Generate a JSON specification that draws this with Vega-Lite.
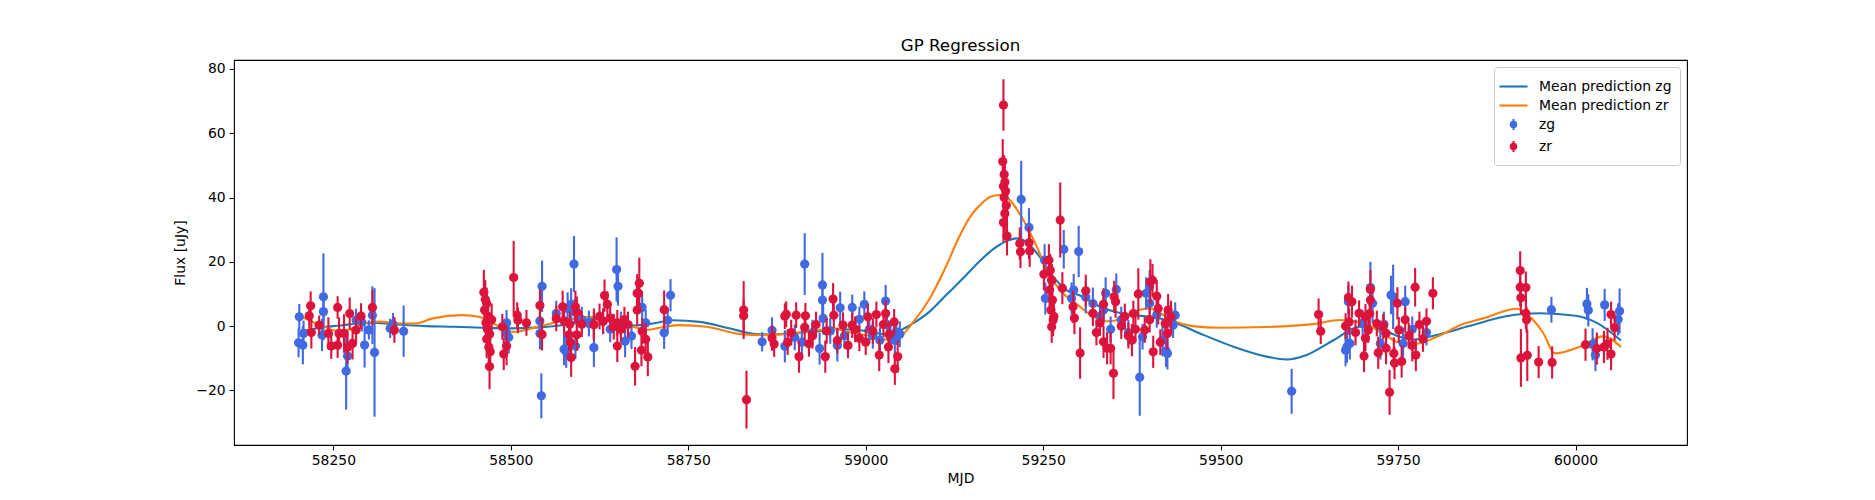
{
"$schema": "https://vega.github.io/schema/vega-lite/v6.json",
"autosize": {"type": "none"},
"padding": {"left": 234, "top": 60, "right": 188, "bottom": 55},
"width": 1453,
"height": 385,
"background": "white",
"title": {"text": "GP Regression", "fontSize": 16.7, "fontWeight": "normal", "font": "DejaVu Sans", "color": "black", "offset": 5},
"config": {
  "font": "DejaVu Sans",
  "view": {"stroke": "black", "strokeWidth": 1.1},
  "axis": {"domain": false, "grid": false, "labelFlush": false, "labelFontSize": 13.9, "labelColor": "black", "tickColor": "black", "tickSize": 4.9, "tickWidth": 1.1, "labelPadding": 4, "titleFontSize": 13.9, "titleFontWeight": "normal", "titleColor": "black", "labelFont": "DejaVu Sans", "titleFont": "DejaVu Sans"},
  "legend": {"symbolStrokeWidth": 2.1, "symbolOpacity": 1}
},
"datasets": {
"gp": [
{"series":"Mean prediction zg","mjd":58203,"flux":-1.8},{"series":"Mean prediction zg","mjd":58230,"flux":-0.5},{"series":"Mean prediction zg","mjd":58260,"flux":0.2},{"series":"Mean prediction zg","mjd":58290,"flux":0.9},{"series":"Mean prediction zg","mjd":58310,"flux":1.0},{"series":"Mean prediction zg","mjd":58340,"flux":0.5},{"series":"Mean prediction zg","mjd":58380,"flux":0.0},{"series":"Mean prediction zg","mjd":58420,"flux":-0.2},{"series":"Mean prediction zg","mjd":58460,"flux":-0.5},{"series":"Mean prediction zg","mjd":58500,"flux":-0.7},{"series":"Mean prediction zg","mjd":58540,"flux":-0.4},{"series":"Mean prediction zg","mjd":58580,"flux":0.6},{"series":"Mean prediction zg","mjd":58610,"flux":2.2},{"series":"Mean prediction zg","mjd":58630,"flux":2.0},{"series":"Mean prediction zg","mjd":58650,"flux":1.0},{"series":"Mean prediction zg","mjd":58672,"flux":0.2},{"series":"Mean prediction zg","mjd":58700,"flux":0.8},{"series":"Mean prediction zg","mjd":58728,"flux":1.8},{"series":"Mean prediction zg","mjd":58766,"flux":1.3},{"series":"Mean prediction zg","mjd":58808,"flux":-0.7},{"series":"Mean prediction zg","mjd":58846,"flux":-2.5},{"series":"Mean prediction zg","mjd":58870,"flux":-2.6},{"series":"Mean prediction zg","mjd":58900,"flux":-2.2},{"series":"Mean prediction zg","mjd":58930,"flux":-1.7},{"series":"Mean prediction zg","mjd":58960,"flux":-1.0},{"series":"Mean prediction zg","mjd":58990,"flux":-1.2},{"series":"Mean prediction zg","mjd":59010,"flux":-2.0},{"series":"Mean prediction zg","mjd":59030,"flux":-2.5},{"series":"Mean prediction zg","mjd":59050,"flux":-1.2},{"series":"Mean prediction zg","mjd":59067,"flux":0.9},{"series":"Mean prediction zg","mjd":59090,"flux":4.5},{"series":"Mean prediction zg","mjd":59114,"flux":9.8},{"series":"Mean prediction zg","mjd":59140,"flux":15.5},{"series":"Mean prediction zg","mjd":59161,"flux":20.3},{"series":"Mean prediction zg","mjd":59180,"flux":24.0},{"series":"Mean prediction zg","mjd":59198,"flux":26.4},{"series":"Mean prediction zg","mjd":59212,"flux":27.3},{"series":"Mean prediction zg","mjd":59226,"flux":26.2},{"series":"Mean prediction zg","mjd":59245,"flux":21.6},{"series":"Mean prediction zg","mjd":59264,"flux":15.4},{"series":"Mean prediction zg","mjd":59283,"flux":11.2},{"series":"Mean prediction zg","mjd":59302,"flux":9.5},{"series":"Mean prediction zg","mjd":59330,"flux":6.0},{"series":"Mean prediction zg","mjd":59360,"flux":4.0},{"series":"Mean prediction zg","mjd":59377,"flux":3.4},{"series":"Mean prediction zg","mjd":59400,"flux":2.9},{"series":"Mean prediction zg","mjd":59433,"flux":1.3},{"series":"Mean prediction zg","mjd":59471,"flux":-2.3},{"series":"Mean prediction zg","mjd":59518,"flux":-6.4},{"series":"Mean prediction zg","mjd":59565,"flux":-9.5},{"series":"Mean prediction zg","mjd":59593,"flux":-10.4},{"series":"Mean prediction zg","mjd":59621,"flux":-9.0},{"series":"Mean prediction zg","mjd":59659,"flux":-4.4},{"series":"Mean prediction zg","mjd":59696,"flux":-0.2},{"series":"Mean prediction zg","mjd":59729,"flux":-1.2},{"series":"Mean prediction zg","mjd":59752,"flux":-3.3},{"series":"Mean prediction zg","mjd":59770,"flux":-4.2},{"series":"Mean prediction zg","mjd":59800,"flux":-3.0},{"series":"Mean prediction zg","mjd":59850,"flux":0.0},{"series":"Mean prediction zg","mjd":59900,"flux":3.0},{"series":"Mean prediction zg","mjd":59950,"flux":4.0},{"series":"Mean prediction zg","mjd":60000,"flux":3.2},{"series":"Mean prediction zg","mjd":60030,"flux":1.0},{"series":"Mean prediction zg","mjd":60064,"flux":-4.5},
{"series":"Mean prediction zr","mjd":58205,"flux":3.0},{"series":"Mean prediction zr","mjd":58215,"flux":1.9},{"series":"Mean prediction zr","mjd":58235,"flux":0.0},{"series":"Mean prediction zr","mjd":58257,"flux":-1.5},{"series":"Mean prediction zr","mjd":58275,"flux":-1.0},{"series":"Mean prediction zr","mjd":58300,"flux":1.2},{"series":"Mean prediction zr","mjd":58315,"flux":1.4},{"series":"Mean prediction zr","mjd":58340,"flux":0.9},{"series":"Mean prediction zr","mjd":58366,"flux":0.8},{"series":"Mean prediction zr","mjd":58390,"flux":2.4},{"series":"Mean prediction zr","mjd":58432,"flux":3.4},{"series":"Mean prediction zr","mjd":58455,"flux":2.9},{"series":"Mean prediction zr","mjd":58484,"flux":-0.2},{"series":"Mean prediction zr","mjd":58503,"flux":-1.8},{"series":"Mean prediction zr","mjd":58541,"flux":0.0},{"series":"Mean prediction zr","mjd":58579,"flux":1.9},{"series":"Mean prediction zr","mjd":58611,"flux":2.9},{"series":"Mean prediction zr","mjd":58640,"flux":1.5},{"series":"Mean prediction zr","mjd":58672,"flux":-0.2},{"series":"Mean prediction zr","mjd":58691,"flux":-1.2},{"series":"Mean prediction zr","mjd":58715,"flux":-0.3},{"series":"Mean prediction zr","mjd":58738,"flux":0.3},{"series":"Mean prediction zr","mjd":58776,"flux":-0.2},{"series":"Mean prediction zr","mjd":58823,"flux":-2.5},{"series":"Mean prediction zr","mjd":58856,"flux":-2.8},{"series":"Mean prediction zr","mjd":58893,"flux":-2.3},{"series":"Mean prediction zr","mjd":58925,"flux":-1.5},{"series":"Mean prediction zr","mjd":58954,"flux":-0.8},{"series":"Mean prediction zr","mjd":58980,"flux":-2.0},{"series":"Mean prediction zr","mjd":59006,"flux":-3.1},{"series":"Mean prediction zr","mjd":59030,"flux":-4.2},{"series":"Mean prediction zr","mjd":59043,"flux":-4.0},{"series":"Mean prediction zr","mjd":59067,"flux":1.3},{"series":"Mean prediction zr","mjd":59090,"flux":8.5},{"series":"Mean prediction zr","mjd":59114,"flux":19.0},{"series":"Mean prediction zr","mjd":59130,"flux":27.0},{"series":"Mean prediction zr","mjd":59147,"flux":34.0},{"series":"Mean prediction zr","mjd":59165,"flux":38.5},{"series":"Mean prediction zr","mjd":59175,"flux":40.2},{"series":"Mean prediction zr","mjd":59189,"flux":40.8},{"series":"Mean prediction zr","mjd":59203,"flux":39.2},{"series":"Mean prediction zr","mjd":59222,"flux":33.0},{"series":"Mean prediction zr","mjd":59241,"flux":24.7},{"series":"Mean prediction zr","mjd":59255,"flux":17.4},{"series":"Mean prediction zr","mjd":59274,"flux":11.2},{"series":"Mean prediction zr","mjd":59302,"flux":6.0},{"series":"Mean prediction zr","mjd":59320,"flux":3.0},{"series":"Mean prediction zr","mjd":59340,"flux":1.5},{"series":"Mean prediction zr","mjd":59360,"flux":2.2},{"series":"Mean prediction zr","mjd":59385,"flux":5.0},{"series":"Mean prediction zr","mjd":59400,"flux":5.5},{"series":"Mean prediction zr","mjd":59415,"flux":4.0},{"series":"Mean prediction zr","mjd":59435,"flux":1.5},{"series":"Mean prediction zr","mjd":59460,"flux":0.0},{"series":"Mean prediction zr","mjd":59500,"flux":-0.5},{"series":"Mean prediction zr","mjd":59560,"flux":-0.3},{"series":"Mean prediction zr","mjd":59630,"flux":0.6},{"series":"Mean prediction zr","mjd":59668,"flux":1.9},{"series":"Mean prediction zr","mjd":59700,"flux":1.0},{"series":"Mean prediction zr","mjd":59730,"flux":-2.5},{"series":"Mean prediction zr","mjd":59750,"flux":-5.0},{"series":"Mean prediction zr","mjd":59775,"flux":-5.5},{"series":"Mean prediction zr","mjd":59803,"flux":-3.5},{"series":"Mean prediction zr","mjd":59840,"flux":0.5},{"series":"Mean prediction zr","mjd":59870,"flux":2.4},{"series":"Mean prediction zr","mjd":59917,"flux":5.4},{"series":"Mean prediction zr","mjd":59940,"flux":2.0},{"series":"Mean prediction zr","mjd":59954,"flux":-2.0},{"series":"Mean prediction zr","mjd":59971,"flux":-8.5},{"series":"Mean prediction zr","mjd":60005,"flux":-6.5},{"series":"Mean prediction zr","mjd":60039,"flux":-3.2},{"series":"Mean prediction zr","mjd":60064,"flux":-6.5}
],
"zg": [
{"series":"zg","mjd":58202,"flux":2.9,"err":4},{"series":"zg","mjd":58201,"flux":-5.2,"err":4.5},{"series":"zg","mjd":58207,"flux":-5.9,"err":6},{"series":"zg","mjd":58208,"flux":-2.3,"err":4},{"series":"zg","mjd":58236,"flux":9.1,"err":13.5},{"series":"zg","mjd":58236,"flux":4.5,"err":4},{"series":"zg","mjd":58234,"flux":-2.8,"err":5},{"series":"zg","mjd":58268,"flux":-14.0,"err":12},{"series":"zg","mjd":58270,"flux":-9.3,"err":4},{"series":"zg","mjd":58294,"flux":-5.9,"err":7},{"series":"zg","mjd":58300,"flux":-1.2,"err":3},{"series":"zg","mjd":58305,"flux":3.4,"err":9},{"series":"zg","mjd":58308,"flux":-8.2,"err":20},{"series":"zg","mjd":58282,"flux":1.9,"err":3.5},{"series":"zg","mjd":58290,"flux":1.3,"err":3},{"series":"zg","mjd":58334,"flux":0.6,"err":3.5},{"series":"zg","mjd":58330,"flux":-0.7,"err":3},{"series":"zg","mjd":58349,"flux":-1.6,"err":8},
{"series":"zg","mjd":58494,"flux":1.0,"err":4},{"series":"zg","mjd":58494,"flux":-2.3,"err":4},{"series":"zg","mjd":58497,"flux":-3.5,"err":5},{"series":"zg","mjd":58543,"flux":-21.7,"err":7},{"series":"zg","mjd":58544,"flux":12.4,"err":8},{"series":"zg","mjd":58541,"flux":1.6,"err":4},{"series":"zg","mjd":58541,"flux":-2.3,"err":5},{"series":"zg","mjd":58589,"flux":19.3,"err":8.7},{"series":"zg","mjd":58580,"flux":5.5,"err":5},{"series":"zg","mjd":58585,"flux":6.8,"err":5},{"series":"zg","mjd":58590,"flux":4.5,"err":4},{"series":"zg","mjd":58575,"flux":-7.2,"err":5},{"series":"zg","mjd":58578,"flux":-8.0,"err":5},{"series":"zg","mjd":58591,"flux":-6.2,"err":4},{"series":"zg","mjd":58617,"flux":-6.7,"err":6},{"series":"zg","mjd":58600,"flux":2.0,"err":4},{"series":"zg","mjd":58564,"flux":3.9,"err":4},{"series":"zg","mjd":58649,"flux":17.6,"err":10},{"series":"zg","mjd":58651,"flux":12.4,"err":6},{"series":"zg","mjd":58685,"flux":5.8,"err":4},{"series":"zg","mjd":58725,"flux":9.6,"err":5},{"series":"zg","mjd":58721,"flux":1.8,"err":4},{"series":"zg","mjd":58716,"flux":-2.1,"err":5},{"series":"zg","mjd":58661,"flux":-4.7,"err":5},{"series":"zg","mjd":58670,"flux":-3.1,"err":4},{"series":"zg","mjd":58690,"flux":1.0,"err":4},{"series":"zg","mjd":58630,"flux":1.5,"err":4},{"series":"zg","mjd":58640,"flux":-1.0,"err":4},{"series":"zg","mjd":58655,"flux":0.5,"err":4},{"series":"zg","mjd":58610,"flux":0.8,"err":4},
{"series":"zg","mjd":58854,"flux":-4.9,"err":3},{"series":"zg","mjd":58868,"flux":-1.3,"err":4},{"series":"zg","mjd":58886,"flux":-6.3,"err":5},{"series":"zg","mjd":58914,"flux":19.3,"err":9.6},{"series":"zg","mjd":58939,"flux":12.8,"err":10},{"series":"zg","mjd":58939,"flux":8.1,"err":6},{"series":"zg","mjd":58940,"flux":2.4,"err":5},{"series":"zg","mjd":58964,"flux":5.7,"err":5},{"series":"zg","mjd":58981,"flux":5.8,"err":4},{"series":"zg","mjd":58998,"flux":6.8,"err":4},{"series":"zg","mjd":59028,"flux":7.8,"err":5},{"series":"zg","mjd":58991,"flux":2.1,"err":4},{"series":"zg","mjd":59020,"flux":-4.4,"err":4},{"series":"zg","mjd":59041,"flux":-4.4,"err":4},{"series":"zg","mjd":59043,"flux":-1.8,"err":4},{"series":"zg","mjd":58900,"flux":-3.5,"err":4},{"series":"zg","mjd":58910,"flux":-5.0,"err":4},{"series":"zg","mjd":58925,"flux":-2.0,"err":4},{"series":"zg","mjd":58935,"flux":-7.0,"err":5},{"series":"zg","mjd":58950,"flux":-1.5,"err":4},{"series":"zg","mjd":58960,"flux":-6.0,"err":5},{"series":"zg","mjd":58970,"flux":-3.0,"err":4},{"series":"zg","mjd":59005,"flux":-1.0,"err":4},{"series":"zg","mjd":59010,"flux":-3.0,"err":4},{"series":"zg","mjd":59035,"flux":-3.5,"err":4},{"series":"zg","mjd":59030,"flux":0.5,"err":4},{"series":"zg","mjd":59048,"flux":-2.5,"err":4},
{"series":"zg","mjd":59219,"flux":39.4,"err":12},{"series":"zg","mjd":59230,"flux":30.7,"err":6},{"series":"zg","mjd":59252,"flux":20.5,"err":5},{"series":"zg","mjd":59253,"flux":8.6,"err":5},{"series":"zg","mjd":59262,"flux":14.3,"err":5},{"series":"zg","mjd":59279,"flux":23.9,"err":6},{"series":"zg","mjd":59300,"flux":23.2,"err":8},{"series":"zg","mjd":59290,"flux":8.6,"err":5},{"series":"zg","mjd":59293,"flux":11.2,"err":5},{"series":"zg","mjd":59310,"flux":9.0,"err":5},{"series":"zg","mjd":59320,"flux":7.0,"err":5},
{"series":"zg","mjd":59338,"flux":10.2,"err":5},{"series":"zg","mjd":59353,"flux":11.4,"err":5},{"series":"zg","mjd":59335,"flux":5.0,"err":4},{"series":"zg","mjd":59395,"flux":10.2,"err":5},{"series":"zg","mjd":59400,"flux":12.4,"err":5},{"series":"zg","mjd":59400,"flux":7.1,"err":5},{"series":"zg","mjd":59436,"flux":3.4,"err":4},{"series":"zg","mjd":59433,"flux":0.3,"err":4},{"series":"zg","mjd":59418,"flux":-4.4,"err":5},{"series":"zg","mjd":59425,"flux":-8.5,"err":5},{"series":"zg","mjd":59390,"flux":-3.3,"err":4},{"series":"zg","mjd":59386,"flux":-15.9,"err":12},{"series":"zg","mjd":59423,"flux":-7.7,"err":5},{"series":"zg","mjd":59360,"flux":2.0,"err":4},{"series":"zg","mjd":59370,"flux":-2.0,"err":4},{"series":"zg","mjd":59345,"flux":-1.0,"err":4},{"series":"zg","mjd":59330,"flux":3.0,"err":4},{"series":"zg","mjd":59410,"flux":3.5,"err":4},
{"series":"zg","mjd":59600,"flux":-20.3,"err":7},
{"series":"zg","mjd":59680,"flux":7.6,"err":5},{"series":"zg","mjd":59678,"flux":-6.4,"err":5},{"series":"zg","mjd":59682,"flux":-5.4,"err":5},{"series":"zg","mjd":59676,"flux":-7.5,"err":5},{"series":"zg","mjd":59711,"flux":12.0,"err":8},{"series":"zg","mjd":59714,"flux":7.1,"err":6},{"series":"zg","mjd":59725,"flux":-5.4,"err":5},{"series":"zg","mjd":59743,"flux":9.1,"err":10},{"series":"zg","mjd":59760,"flux":7.6,"err":5},{"series":"zg","mjd":59757,"flux":-5.4,"err":5},{"series":"zg","mjd":59740,"flux":9.7,"err":6},{"series":"zg","mjd":59790,"flux":-2.0,"err":4},{"series":"zg","mjd":59700,"flux":1.0,"err":4},{"series":"zg","mjd":59730,"flux":0.5,"err":4},{"series":"zg","mjd":59770,"flux":-1.0,"err":4},
{"series":"zg","mjd":59966,"flux":5.1,"err":4},{"series":"zg","mjd":60016,"flux":6.9,"err":5},{"series":"zg","mjd":60018,"flux":4.9,"err":5},{"series":"zg","mjd":60041,"flux":6.6,"err":5},{"series":"zg","mjd":60062,"flux":4.7,"err":7},{"series":"zg","mjd":60060,"flux":2.1,"err":5},{"series":"zg","mjd":60028,"flux":-9.0,"err":5},{"series":"zg","mjd":60024,"flux":-5.7,"err":5}
],
"zr": [
{"series":"zr","mjd":58218,"flux":6.3,"err":4.5},{"series":"zr","mjd":58216,"flux":3.2,"err":4},{"series":"zr","mjd":58219,"flux":-2.0,"err":5},{"series":"zr","mjd":58230,"flux":0.3,"err":3},{"series":"zr","mjd":58243,"flux":-2.3,"err":5},{"series":"zr","mjd":58247,"flux":-6.2,"err":4},{"series":"zr","mjd":58256,"flux":5.8,"err":3.5},{"series":"zr","mjd":58256,"flux":-5.9,"err":4},{"series":"zr","mjd":58258,"flux":-2.3,"err":5},{"series":"zr","mjd":58265,"flux":-2.3,"err":6},{"series":"zr","mjd":58270,"flux":-6.6,"err":5},{"series":"zr","mjd":58273,"flux":3.9,"err":5},{"series":"zr","mjd":58277,"flux":-5.4,"err":5},{"series":"zr","mjd":58282,"flux":-1.2,"err":4},{"series":"zr","mjd":58289,"flux":3.1,"err":4},{"series":"zr","mjd":58305,"flux":5.8,"err":5.5},{"series":"zr","mjd":58336,"flux":-1.2,"err":4},
{"series":"zr","mjd":58462,"flux":10.5,"err":7},{"series":"zr","mjd":58464,"flux":8.3,"err":6},{"series":"zr","mjd":58466,"flux":7.0,"err":5},{"series":"zr","mjd":58463,"flux":5.0,"err":6},{"series":"zr","mjd":58468,"flux":3.0,"err":6},{"series":"zr","mjd":58465,"flux":1.0,"err":5},{"series":"zr","mjd":58467,"flux":-1.0,"err":5},{"series":"zr","mjd":58470,"flux":-2.5,"err":5},{"series":"zr","mjd":58466,"flux":-4.0,"err":6},{"series":"zr","mjd":58469,"flux":-6.5,"err":6},{"series":"zr","mjd":58471,"flux":-8.0,"err":6},{"series":"zr","mjd":58470,"flux":-12.6,"err":7},{"series":"zr","mjd":58473,"flux":2.0,"err":5},{"series":"zr","mjd":58488,"flux":-0.2,"err":4},{"series":"zr","mjd":58494,"flux":-6.2,"err":6},{"series":"zr","mjd":58490,"flux":-8.7,"err":5},{"series":"zr","mjd":58504,"flux":15.1,"err":11.4},{"series":"zr","mjd":58509,"flux":3.4,"err":4},{"series":"zr","mjd":58510,"flux":1.8,"err":4},{"series":"zr","mjd":58522,"flux":1.0,"err":4},{"series":"zr","mjd":58541,"flux":6.4,"err":5},{"series":"zr","mjd":58544,"flux":-2.6,"err":5},{"series":"zr","mjd":58564,"flux":2.4,"err":4},{"series":"zr","mjd":58573,"flux":6.0,"err":5},{"series":"zr","mjd":58575,"flux":1.6,"err":4},{"series":"zr","mjd":58583,"flux":0.6,"err":4},{"series":"zr","mjd":58582,"flux":-2.7,"err":5},{"series":"zr","mjd":58584,"flux":-5.1,"err":5},{"series":"zr","mjd":58585,"flux":-9.8,"err":6},{"series":"zr","mjd":58591,"flux":6.0,"err":5},{"series":"zr","mjd":58593,"flux":4.2,"err":5},{"series":"zr","mjd":58593,"flux":-2.7,"err":5},{"series":"zr","mjd":58600,"flux":0.6,"err":4},{"series":"zr","mjd":58617,"flux":0.4,"err":4},{"series":"zr","mjd":58632,"flux":9.5,"err":5},{"series":"zr","mjd":58636,"flux":6.8,"err":4},{"series":"zr","mjd":58681,"flux":13.3,"err":8},{"series":"zr","mjd":58678,"flux":10.2,"err":6},{"series":"zr","mjd":58680,"flux":10.2,"err":5},{"series":"zr","mjd":58678,"flux":5.0,"err":5},{"series":"zr","mjd":58716,"flux":5.1,"err":6},{"series":"zr","mjd":58617,"flux":0.5,"err":5},{"series":"zr","mjd":58645,"flux":-0.2,"err":4},{"series":"zr","mjd":58625,"flux":3.0,"err":4},{"series":"zr","mjd":58630,"flux":1.5,"err":4},{"series":"zr","mjd":58640,"flux":2.5,"err":4},{"series":"zr","mjd":58650,"flux":1.0,"err":4},{"series":"zr","mjd":58655,"flux":-1.0,"err":4},{"series":"zr","mjd":58665,"flux":0.5,"err":4},{"series":"zr","mjd":58685,"flux":-1.6,"err":4},{"series":"zr","mjd":58690,"flux":-4.1,"err":5},{"series":"zr","mjd":58684,"flux":-7.5,"err":5},{"series":"zr","mjd":58693,"flux":-9.6,"err":6},{"series":"zr","mjd":58675,"flux":-12.5,"err":6},{"series":"zr","mjd":58650,"flux":-6.2,"err":5},{"series":"zr","mjd":58660,"flux":2.0,"err":4},{"series":"zr","mjd":58828,"flux":5.0,"err":9},{"series":"zr","mjd":58828,"flux":3.2,"err":5},{"series":"zr","mjd":58832,"flux":-22.9,"err":9},
{"series":"zr","mjd":58868,"flux":-3.7,"err":4},{"series":"zr","mjd":58871,"flux":-5.6,"err":4},{"series":"zr","mjd":58886,"flux":3.1,"err":4},{"series":"zr","mjd":58888,"flux":3.7,"err":4},{"series":"zr","mjd":58902,"flux":3.4,"err":4},{"series":"zr","mjd":58915,"flux":3.2,"err":4},{"series":"zr","mjd":58914,"flux":-0.4,"err":4},{"series":"zr","mjd":58954,"flux":8.4,"err":5},{"series":"zr","mjd":58955,"flux":3.4,"err":4},{"series":"zr","mjd":58968,"flux":0.3,"err":4},{"series":"zr","mjd":58981,"flux":0.3,"err":4},{"series":"zr","mjd":58991,"flux":-3.8,"err":4},{"series":"zr","mjd":59003,"flux":2.9,"err":4},{"series":"zr","mjd":59015,"flux":3.6,"err":4},{"series":"zr","mjd":59028,"flux":3.9,"err":4},{"series":"zr","mjd":59040,"flux":1.3,"err":4},{"series":"zr","mjd":59033,"flux":-2.6,"err":4},{"series":"zr","mjd":59041,"flux":-13.3,"err":5},{"series":"zr","mjd":59045,"flux":-9.5,"err":5},{"series":"zr","mjd":59019,"flux":-9.0,"err":5},{"series":"zr","mjd":58943,"flux":-9.5,"err":5},{"series":"zr","mjd":58906,"flux":-9.5,"err":5},{"series":"zr","mjd":58890,"flux":-5.0,"err":4},{"series":"zr","mjd":58895,"flux":-2.0,"err":4},{"series":"zr","mjd":58920,"flux":-5.5,"err":4},{"series":"zr","mjd":58925,"flux":-3.0,"err":4},{"series":"zr","mjd":58930,"flux":0.5,"err":4},{"series":"zr","mjd":58945,"flux":-1.5,"err":4},{"series":"zr","mjd":58960,"flux":-4.5,"err":4},{"series":"zr","mjd":58975,"flux":-6.0,"err":4},{"series":"zr","mjd":58985,"flux":-1.0,"err":4},{"series":"zr","mjd":59000,"flux":-5.0,"err":4},{"series":"zr","mjd":59010,"flux":-1.5,"err":4},{"series":"zr","mjd":59025,"flux":0.5,"err":4},{"series":"zr","mjd":59032,"flux":-6.5,"err":5},
{"series":"zr","mjd":59194,"flux":68.8,"err":8},{"series":"zr","mjd":59193,"flux":51.2,"err":7},{"series":"zr","mjd":59195,"flux":47.2,"err":6},{"series":"zr","mjd":59196,"flux":44.8,"err":6},{"series":"zr","mjd":59194,"flux":43.5,"err":6},{"series":"zr","mjd":59197,"flux":42.0,"err":6},{"series":"zr","mjd":59195,"flux":40.0,"err":6},{"series":"zr","mjd":59198,"flux":37.5,"err":6},{"series":"zr","mjd":59196,"flux":35.0,"err":6},{"series":"zr","mjd":59194,"flux":32.2,"err":6},{"series":"zr","mjd":59199,"flux":28.0,"err":6},{"series":"zr","mjd":59217,"flux":25.7,"err":5},{"series":"zr","mjd":59218,"flux":23.1,"err":5},{"series":"zr","mjd":59230,"flux":25.9,"err":5},{"series":"zr","mjd":59231,"flux":23.4,"err":5},{"series":"zr","mjd":59274,"flux":33.0,"err":11.7},{"series":"zr","mjd":59251,"flux":16.1,"err":5},{"series":"zr","mjd":59258,"flux":20.5,"err":5},{"series":"zr","mjd":59260,"flux":17.4,"err":5},{"series":"zr","mjd":59262,"flux":14.3,"err":5},{"series":"zr","mjd":59259,"flux":11.2,"err":5},{"series":"zr","mjd":59263,"flux":8.1,"err":5},{"series":"zr","mjd":59261,"flux":5.0,"err":5},{"series":"zr","mjd":59264,"flux":1.9,"err":5},{"series":"zr","mjd":59262,"flux":-0.2,"err":5},{"series":"zr","mjd":59277,"flux":11.8,"err":5},{"series":"zr","mjd":59292,"flux":6.0,"err":5},{"series":"zr","mjd":59294,"flux":2.5,"err":5},{"series":"zr","mjd":59302,"flux":-8.4,"err":8},{"series":"zr","mjd":59265,"flux":3.0,"err":4},
{"series":"zr","mjd":59335,"flux":6.8,"err":5},{"series":"zr","mjd":59350,"flux":9.1,"err":5},{"series":"zr","mjd":59352,"flux":7.6,"err":5},{"series":"zr","mjd":59384,"flux":10.0,"err":8},{"series":"zr","mjd":59401,"flux":13.8,"err":7},{"series":"zr","mjd":59404,"flux":14.3,"err":5},{"series":"zr","mjd":59410,"flux":9.3,"err":5},{"series":"zr","mjd":59412,"flux":5.5,"err":5},{"series":"zr","mjd":59426,"flux":5.0,"err":5},{"series":"zr","mjd":59430,"flux":2.9,"err":5},{"series":"zr","mjd":59422,"flux":0.8,"err":4},{"series":"zr","mjd":59425,"flux":-2.3,"err":5},{"series":"zr","mjd":59393,"flux":-1.2,"err":4},{"series":"zr","mjd":59377,"flux":3.9,"err":4},{"series":"zr","mjd":59375,"flux":-4.4,"err":5},{"series":"zr","mjd":59345,"flux":-6.9,"err":5},{"series":"zr","mjd":59340,"flux":-6.9,"err":5},{"series":"zr","mjd":59335,"flux":-4.9,"err":5},{"series":"zr","mjd":59349,"flux":-14.7,"err":8},{"series":"zr","mjd":59310,"flux":11.0,"err":5},{"series":"zr","mjd":59320,"flux":4.0,"err":4},{"series":"zr","mjd":59325,"flux":-2.0,"err":4},{"series":"zr","mjd":59330,"flux":1.0,"err":4},{"series":"zr","mjd":59360,"flux":0.0,"err":4},{"series":"zr","mjd":59365,"flux":3.0,"err":4},{"series":"zr","mjd":59370,"flux":-3.0,"err":4},{"series":"zr","mjd":59380,"flux":-1.0,"err":4},{"series":"zr","mjd":59400,"flux":2.0,"err":4},{"series":"zr","mjd":59415,"flux":-5.0,"err":4},{"series":"zr","mjd":59405,"flux":-8.0,"err":5},
{"series":"zr","mjd":59638,"flux":3.6,"err":5},{"series":"zr","mjd":59641,"flux":-1.6,"err":4},
{"series":"zr","mjd":59680,"flux":8.9,"err":5},{"series":"zr","mjd":59685,"flux":7.6,"err":5},{"series":"zr","mjd":59676,"flux":0.0,"err":4},{"series":"zr","mjd":59681,"flux":1.3,"err":4},{"series":"zr","mjd":59711,"flux":11.4,"err":6},{"series":"zr","mjd":59711,"flux":8.1,"err":5},{"series":"zr","mjd":59710,"flux":3.9,"err":4},{"series":"zr","mjd":59704,"flux":2.9,"err":4},{"series":"zr","mjd":59708,"flux":-1.2,"err":4},{"series":"zr","mjd":59704,"flux":-3.8,"err":4},{"series":"zr","mjd":59720,"flux":0.8,"err":4},{"series":"zr","mjd":59729,"flux":-0.2,"err":4},{"series":"zr","mjd":59733,"flux":-2.3,"err":4},{"series":"zr","mjd":59749,"flux":7.1,"err":5},{"series":"zr","mjd":59751,"flux":-1.2,"err":4},{"series":"zr","mjd":59744,"flux":-8.5,"err":5},{"series":"zr","mjd":59722,"flux":-8.3,"err":5},{"series":"zr","mjd":59733,"flux":-6.9,"err":5},{"series":"zr","mjd":59702,"flux":-9.3,"err":5},{"series":"zr","mjd":59738,"flux":-20.6,"err":7},{"series":"zr","mjd":59774,"flux":12.1,"err":6},{"series":"zr","mjd":59799,"flux":10.2,"err":5},{"series":"zr","mjd":59760,"flux":2.0,"err":4},{"series":"zr","mjd":59765,"flux":-3.0,"err":4},{"series":"zr","mjd":59770,"flux":-6.0,"err":5},{"series":"zr","mjd":59780,"flux":0.5,"err":4},{"series":"zr","mjd":59785,"flux":-4.0,"err":4},{"series":"zr","mjd":59790,"flux":1.5,"err":4},{"series":"zr","mjd":59695,"flux":4.0,"err":4},{"series":"zr","mjd":59690,"flux":-2.0,"err":4},{"series":"zr","mjd":59755,"flux":-11.0,"err":5},{"series":"zr","mjd":59745,"flux":-11.5,"err":5},{"series":"zr","mjd":59775,"flux":-9.0,"err":5},
{"series":"zr","mjd":59922,"flux":17.3,"err":6},{"series":"zr","mjd":59922,"flux":12.1,"err":6},{"series":"zr","mjd":59923,"flux":8.8,"err":5},{"series":"zr","mjd":59923,"flux":-9.9,"err":9},{"series":"zr","mjd":59930,"flux":12.0,"err":5},{"series":"zr","mjd":59930,"flux":4.0,"err":5},{"series":"zr","mjd":59931,"flux":2.0,"err":4},{"series":"zr","mjd":59932,"flux":-9.1,"err":8},{"series":"zr","mjd":59948,"flux":-11.2,"err":5},{"series":"zr","mjd":59967,"flux":-11.3,"err":5},{"series":"zr","mjd":60014,"flux":-5.8,"err":5},{"series":"zr","mjd":60040,"flux":-6.5,"err":5},{"series":"zr","mjd":60045,"flux":-5.5,"err":5},{"series":"zr","mjd":60050,"flux":-8.7,"err":5},{"series":"zr","mjd":60050,"flux":3.6,"err":4},{"series":"zr","mjd":60055,"flux":-0.5,"err":4},{"series":"zr","mjd":60030,"flux":-7.0,"err":5}
]
},
"layer": [
  {"data": {"name": "gp"}, "mark": {"type": "line", "strokeWidth": 2.1, "interpolate": "monotone"},
   "encoding": {
    "x": {"field": "mjd", "type": "quantitative", "title": "MJD", "scale": {"domain": [58110, 60157], "nice": false, "zero": false}, "axis": {"values": [58250, 58500, 58750, 59000, 59250, 59500, 59750, 60000], "format": "d", "titlePadding": 4}},
    "y": {"field": "flux", "type": "quantitative", "title": "Flux [uJy]", "scale": {"domain": [-37.0, 82.8], "nice": false, "zero": false}, "axis": {"values": [-20, 0, 20, 40, 60, 80], "titlePadding": 8}},
    "color": {"field": "series", "type": "nominal", "scale": {"domain": ["Mean prediction zg", "Mean prediction zr", "zg", "zr"], "range": ["#1f77b4", "#ff7f0e", "#4169e1", "#dc143c"]},
      "legend": {"title": null, "orient": "top-right", "offset": 7, "padding": 8, "strokeColor": "#cccccc", "fillColor": "rgba(255,255,255,0.8)", "cornerRadius": 3, "labelFontSize": 13.9, "labelFont": "DejaVu Sans", "labelColor": "black", "symbolSize": 400, "rowPadding": 0, "labelOffset": 14, "labelLimit": 300, "symbolStrokeWidth": 2.1}
    }
   }},
  {"data": {"name": "gp"}, "transform": [{"filter": "false"}], "mark": {"type": "point"},
   "encoding": {
    "x": {"field": "mjd", "type": "quantitative", "title": "MJD"},
    "y": {"field": "flux", "type": "quantitative", "title": "Flux [uJy]"},
    "shape": {"field": "series", "type": "nominal", "scale": {"domain": ["Mean prediction zg", "Mean prediction zr", "zg", "zr"], "range": ["M-1.4,0H1.4", "M-1.4,0H1.4", "M0,-0.55V0.55M0.27,0A0.27,0.27 0 1 1 -0.27,0A0.27,0.27 0 1 1 0.27,0M0.12,0A0.12,0.12 0 1 1 -0.12,0A0.12,0.12 0 1 1 0.12,0", "M0,-0.55V0.55M0.27,0A0.27,0.27 0 1 1 -0.27,0A0.27,0.27 0 1 1 0.27,0M0.12,0A0.12,0.12 0 1 1 -0.12,0A0.12,0.12 0 1 1 0.12,0"]},
      "legend": {"title": null, "orient": "top-right"}}
   }},
  {"data": {"name": "zg"}, "mark": {"type": "errorbar", "thickness": 2.1},
   "encoding": {"x": {"field": "mjd", "type": "quantitative", "title": "MJD"}, "y": {"field": "flux", "type": "quantitative", "title": "Flux [uJy]"}, "yError": {"field": "err"}, "color": {"field": "series", "type": "nominal"}}},
  {"data": {"name": "zg"}, "mark": {"type": "point", "filled": true, "size": 85, "opacity": 1},
   "encoding": {"x": {"field": "mjd", "type": "quantitative", "title": "MJD"}, "y": {"field": "flux", "type": "quantitative", "title": "Flux [uJy]"}, "color": {"field": "series", "type": "nominal"}}},
  {"data": {"name": "zr"}, "mark": {"type": "errorbar", "thickness": 2.1},
   "encoding": {"x": {"field": "mjd", "type": "quantitative", "title": "MJD"}, "y": {"field": "flux", "type": "quantitative", "title": "Flux [uJy]"}, "yError": {"field": "err"}, "color": {"field": "series", "type": "nominal"}}},
  {"data": {"name": "zr"}, "mark": {"type": "point", "filled": true, "size": 85, "opacity": 1},
   "encoding": {"x": {"field": "mjd", "type": "quantitative", "title": "MJD"}, "y": {"field": "flux", "type": "quantitative", "title": "Flux [uJy]"}, "color": {"field": "series", "type": "nominal"}}}
]
}
